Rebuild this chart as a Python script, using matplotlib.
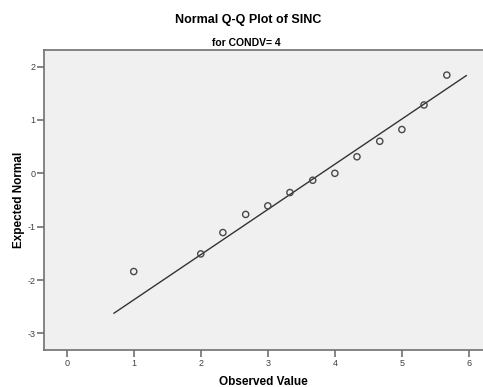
import matplotlib
matplotlib.use("Agg")
import matplotlib.pyplot as plt

# Data
observed = [1.0, 2.0, 2.33, 2.67, 3.0, 3.33, 3.67, 4.0, 4.33, 4.67, 5.0, 5.33, 5.67]
expected = [-1.84, -1.51, -1.11, -0.77, -0.61, -0.36, -0.13, 0.0, 0.31, 0.60, 0.82, 1.28, 1.84]
line_x = [0.706, 5.96]
line_y = [-2.62, 1.83]
xticks = [0, 1, 2, 3, 4, 5, 6]
yticks = [-3, -2, -1, 0, 1, 2]

plt.rcParams['font.family'] = ['Liberation Sans', 'DejaVu Sans']
plt.rcParams['axes.unicode_minus'] = False

fig = plt.figure(figsize=(4.83, 3.87), dpi=100)
ax = fig.add_axes([44.3 / 483, 37 / 387, 1 - 44.3 / 483, 300 / 387])
ax.set_facecolor('#F0F0F0')

ax.plot(line_x, line_y, color='#333333', lw=1.0)
ax.scatter(observed, expected, s=20, facecolors='none', edgecolors='#484848', linewidths=1.0, zorder=3)

ax.set_xlim(-0.334, 6.21)
ax.set_ylim(-3.31, 2.31)
ax.set_xticks(xticks)
ax.set_yticks(yticks)
ax.tick_params(axis='both', direction='out', length=5, width=1.2, color='#707070',
               labelsize=6.5, labelcolor='#404040', pad=1.5)

for s in ['left', 'bottom', 'top']:
    ax.spines[s].set_color('#707070')
    ax.spines[s].set_linewidth(1.2)
ax.spines['right'].set_visible(False)

ax.set_xlabel('Observed Value', fontsize=8.5, fontweight='bold', labelpad=6)
ax.set_ylabel('Expected Normal', fontsize=8.5, fontweight='bold', labelpad=1.5)

fig.text(248 / 483, 1 - 20 / 387, 'Normal Q-Q Plot of SINC', ha='center', va='center',
         fontsize=9, fontweight='bold')
fig.text(246 / 483, 1 - 42.5 / 387, 'for CONDV= 4', ha='center', va='center',
         fontsize=7.5, fontweight='bold')

fig.savefig('out.png', dpi=100)
